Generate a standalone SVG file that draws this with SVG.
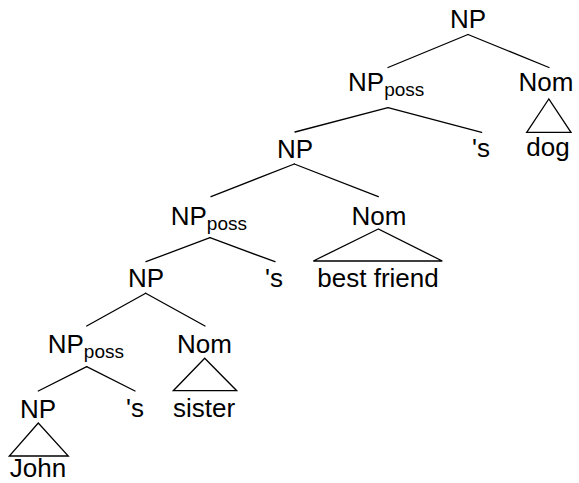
<svg xmlns="http://www.w3.org/2000/svg" width="579" height="483" viewBox="0 0 579 483">
  <style>
    text { font-family: "Liberation Sans", Arial, sans-serif; font-size: 26px; fill: #000; }
    .c { text-anchor: middle; }
    .sub { font-size: 19px; }
    .edges line, .edges polygon { stroke: #000; stroke-width: 1.3; fill: none; stroke-linecap: round; stroke-linejoin: miter; }
  </style>
  <rect width="579" height="483" fill="#fff"/>

  <!-- branches and roof triangles -->
  <g class="edges">
    <line x1="468" y1="34.5" x2="388" y2="67.5"/>
    <line x1="468" y1="34.5" x2="549" y2="67.5"/>
    <polygon points="548.8,99 526.7,132.3 571,132.3"/>
    <line x1="388" y1="107.7" x2="295" y2="132"/>
    <line x1="388" y1="107.7" x2="481.7" y2="132.3"/>
    <line x1="294.3" y1="164" x2="211" y2="196.7"/>
    <line x1="294.3" y1="164" x2="378.3" y2="196.7"/>
    <polygon points="378.3,229 313.3,261 442.3,261"/>
    <line x1="210" y1="237.7" x2="146" y2="261.7"/>
    <line x1="210" y1="237.7" x2="275" y2="261.7"/>
    <line x1="145.7" y1="293.3" x2="86.7" y2="326"/>
    <line x1="145.7" y1="293.3" x2="205" y2="326"/>
    <polygon points="204.7,358.3 173.3,390.7 236.7,390.7"/>
    <line x1="86.7" y1="366.7" x2="38.3" y2="391"/>
    <line x1="86.7" y1="366.7" x2="135" y2="391"/>
    <polygon points="38.3,423 9.3,456 68.3,456"/>
  </g>

  <!-- nodes -->
  <g id="np-root"><text class="c" x="468" y="28">NP</text></g>
  <g id="npposs-1"><text x="348" y="91">NP<tspan class="sub" dy="5">poss</tspan></text></g>
  <g id="nom-1"><text class="c" x="546" y="91">Nom</text></g>
  <g id="dog"><text class="c" x="548" y="156">dog</text></g>
  <g id="s-1"><text class="c" x="481" y="157">'s</text></g>

  <g id="np-2"><text class="c" x="295" y="158">NP</text></g>
  <g id="npposs-2"><text x="170.7" y="225">NP<tspan class="sub" dy="5">poss</tspan></text></g>
  <g id="nom-2"><text class="c" x="379" y="225">Nom</text></g>
  <g id="best-friend"><text class="c" x="378" y="287">best friend</text></g>
  <g id="s-2"><text class="c" x="274" y="287">'s</text></g>

  <g id="np-3"><text class="c" x="146" y="287">NP</text></g>
  <g id="npposs-3"><text x="47.7" y="353">NP<tspan class="sub" dy="5">poss</tspan></text></g>
  <g id="nom-3"><text class="c" x="204.5" y="353">Nom</text></g>
  <g id="sister"><text class="c" x="204" y="417">sister</text></g>
  <g id="s-3"><text class="c" x="135" y="417">'s</text></g>

  <g id="np-4"><text class="c" x="38" y="418">NP</text></g>
  <g id="john"><text class="c" x="38" y="477">John</text></g>
</svg>
